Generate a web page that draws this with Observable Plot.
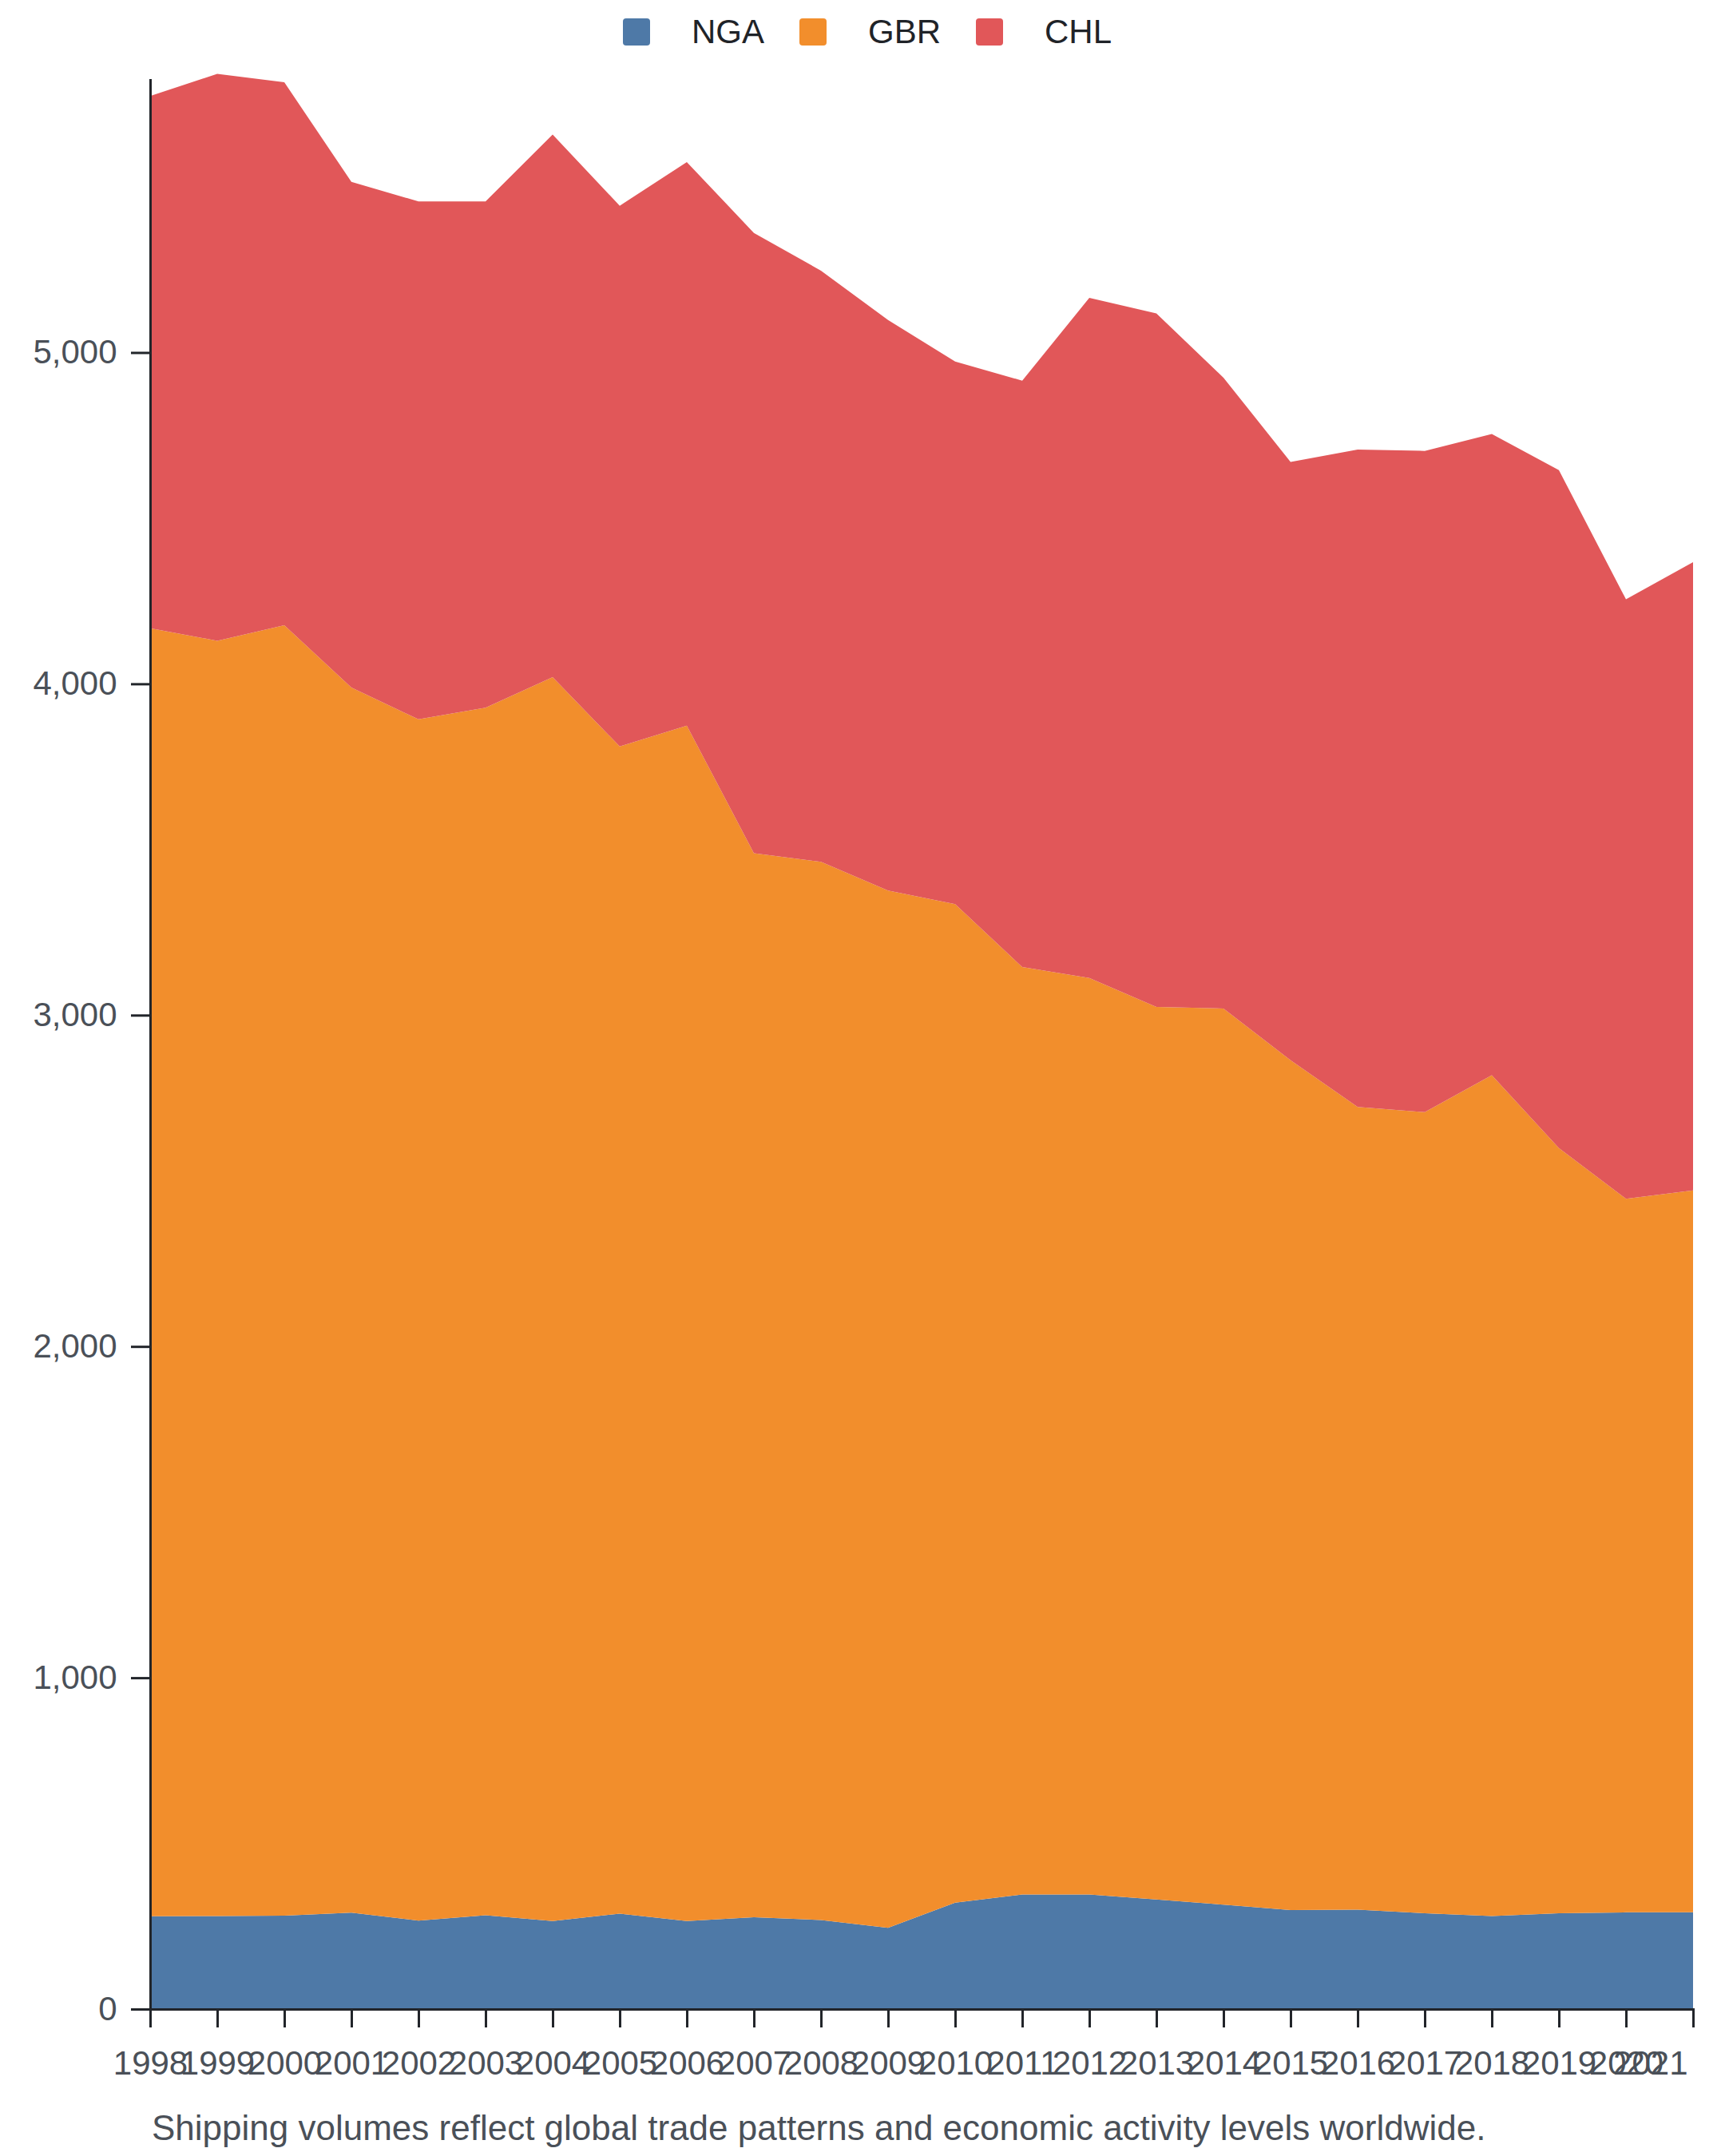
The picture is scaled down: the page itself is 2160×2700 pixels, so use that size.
<!DOCTYPE html>
<html>
<head>
<meta charset="utf-8">
<script src="https://cdn.jsdelivr.net/npm/d3@7"></script>
<script src="https://cdn.jsdelivr.net/npm/@observablehq/plot@0.6"></script>
<style>
  html, body { margin: 0; padding: 0; background: #fff; }
  body { width: 2160px; font-family: "Liberation Sans", Arial, Helvetica, sans-serif; }
  #legend { height: 80px; display: flex; justify-content: center; align-items: center; padding-left: 12px; box-sizing: border-box; }
  .item { display: flex; align-items: center; margin: 0 22px; }
  .sw { width: 34px; height: 34px; border-radius: 4px; margin-right: 52px; }
  .lab { font-size: 42px; color: #1f2328; line-height: 1; }
  #caption { font-size: 44px; color: #4a5058; padding-left: 190px; margin-top: 23px; line-height: 52px; }
  #chart svg { display: block; overflow: visible; }
</style>
</head>
<body>
<div id="legend"></div>
<div id="chart"></div>
<div id="caption"></div>
<script>
const years = [1998,1999,2000,2001,2002,2003,2004,2005,2006,2007,2008,2009,2010,2011,2012,2013,2014,2015,2016,2017,2018,2019,2020,2021];
const countries = ["NGA", "GBR", "CHL"];
const colors = ["#4e79a7", "#f28e2c", "#e15759"];
const NGA = [280,281,282,291,267,283,266,288,266,277,269,245,321,346,346,331,315,299,300,289,281,289,292,292];
const GBR = [3888,3849,3895,3698,3626,3645,3754,3523,3608,3212,3194,3131,3014,2799,2766,2694,2705,2565,2423,2418,2538,2310,2154,2179];
const CHL = [1606,1711,1639,1526,1563,1528,1638,1632,1701,1872,1784,1722,1638,1770,2053,2093,1904,1806,1984,1996,1935,2046,1809,1896];
const yTicks = [0, 1000, 2000, 3000, 4000, 5000];
const caption = "Shipping volumes reflect global trade patterns and economic activity levels worldwide.";

const series = {NGA, GBR, CHL};
const data = [];
for (const c of countries) {
  years.forEach((yr, i) => data.push({year: yr, country: c, value: series[c][i]}));
}

// legend
const legend = document.getElementById("legend");
countries.forEach((c, i) => {
  const it = document.createElement("div");
  it.className = "item";
  const sw = document.createElement("div");
  sw.className = "sw";
  sw.style.background = colors[i];
  const lab = document.createElement("span");
  lab.className = "lab";
  lab.textContent = c;
  it.appendChild(sw);
  it.appendChild(lab);
  legend.appendChild(it);
});
document.getElementById("caption").textContent = caption;

const axisColor = "#22252a";
const textColor = "#4a5058";
const lastYear = years[years.length - 1];

const chart = Plot.plot({
  width: 2160,
  height: 2536,
  marginTop: 20,
  marginLeft: 188,
  marginRight: 40,
  marginBottom: 100,
  style: {fontFamily: "'Liberation Sans', Arial, Helvetica, sans-serif", fontSize: "42px", background: "#fff"},
  x: {domain: [years[0], lastYear]},
  y: {domain: [0, 5823]},
  color: {domain: countries, range: colors},
  marks: [
    Plot.areaY(data, {x: "year", y: "value", fill: "country", order: countries, curve: "linear"}),
    Plot.frame({anchor: "left", stroke: axisColor, strokeWidth: 3}),
    Plot.frame({anchor: "bottom", stroke: axisColor, strokeWidth: 3}),
    Plot.axisY({ticks: yTicks, tickFormat: d3.format(","), tickSize: 24, tickPadding: 18, stroke: axisColor, fill: textColor, strokeWidth: 3, fontSize: 42, label: null}),
    Plot.axisX({ticks: years, tickFormat: d => d === lastYear ? "" : String(d), tickSize: 23, tickPadding: 29, stroke: axisColor, fill: textColor, strokeWidth: 3, fontSize: 42, label: null}),
    Plot.axisX({ticks: [lastYear], tickFormat: d => String(d), tickSize: 0, tickPadding: 52, fill: textColor, fontSize: 42, textAnchor: "end", dx: -7, label: null})
  ]
});
document.getElementById("chart").appendChild(chart);
</script>
</body>
</html>
